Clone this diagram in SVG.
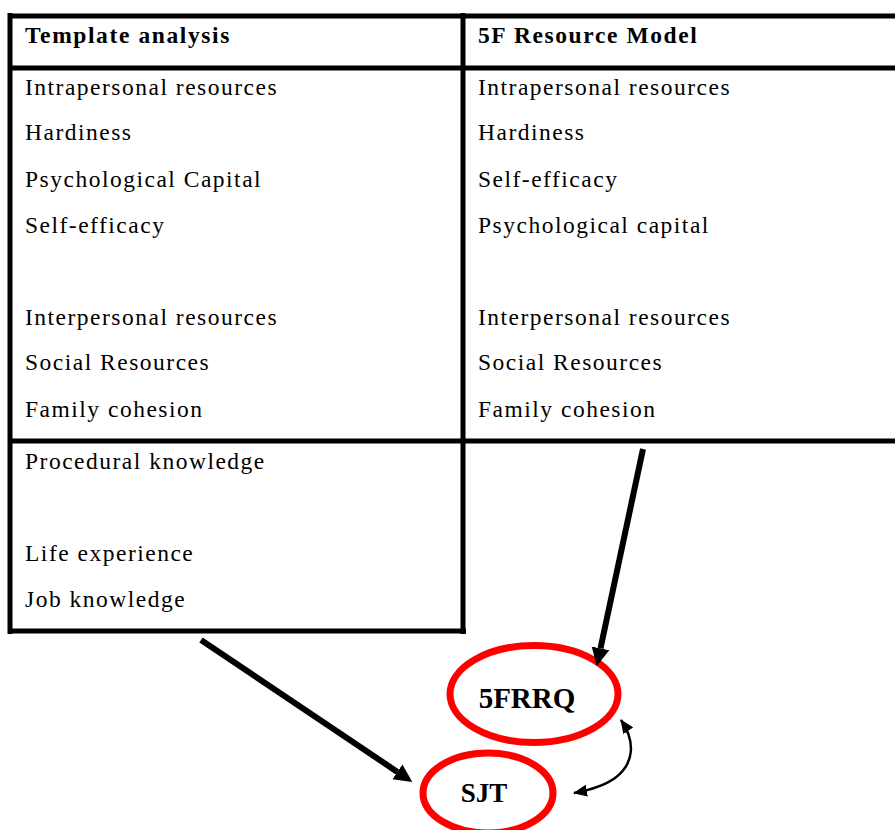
<svg xmlns="http://www.w3.org/2000/svg" width="895" height="830" viewBox="0 0 895 830">
<style>
.t{font-family:"Liberation Serif","Times New Roman",serif;font-size:23.5px;letter-spacing:1.5px;fill:#000}
.h{font-family:"Liberation Serif","Times New Roman",serif;font-size:23.5px;font-weight:bold;letter-spacing:1.6px;fill:#000}
.b{stroke:#000;stroke-width:5;fill:none}
.e{fill:#fff;stroke:#ff0000;stroke-width:7}
.l{font-family:"Liberation Serif","Times New Roman",serif;font-weight:bold;fill:#000}
</style>
<defs>
<marker id="big" markerUnits="userSpaceOnUse" markerWidth="20" markerHeight="20" viewBox="0 0 20 18" refX="0" refY="9" orient="auto">
<path d="M0,0 L18,9 L0,18 Z" fill="#000"/>
</marker>
<marker id="sm" markerUnits="userSpaceOnUse" markerWidth="14" markerHeight="12" viewBox="0 0 14 12" refX="13" refY="6" orient="auto-start-reverse">
<path d="M0,0 L14,6 L0,12 Z" fill="#000"/>
</marker>
</defs>
<g id="table">
<line class="b" x1="8" y1="16" x2="895" y2="16"/>
<line class="b" x1="10" y1="13" x2="10" y2="634"/>
<line class="b" x1="8" y1="68" x2="895" y2="68"/>
<line class="b" x1="463" y1="13" x2="463" y2="634"/>
<line class="b" x1="8" y1="441" x2="895" y2="441"/>
<line class="b" x1="8" y1="631" x2="466" y2="631"/>
</g>
<g id="col-template">
<text class="h" x="25" y="43">Template analysis</text>
<text class="t" x="25" y="95">Intrapersonal resources</text>
<text class="t" x="25" y="140">Hardiness</text>
<text class="t" x="25" y="187">Psychological Capital</text>
<text class="t" x="25" y="233">Self-efficacy</text>
<text class="t" x="25" y="325">Interpersonal resources</text>
<text class="t" x="25" y="370">Social Resources</text>
<text class="t" x="25" y="417">Family cohesion</text>
<text class="t" x="25" y="469">Procedural knowledge</text>
<text class="t" x="25" y="561">Life experience</text>
<text class="t" x="25" y="607">Job knowledge</text>
</g>
<g id="col-5f">
<text class="h" x="478" y="43">5F Resource Model</text>
<text class="t" x="478" y="95">Intrapersonal resources</text>
<text class="t" x="478" y="140">Hardiness</text>
<text class="t" x="478" y="187">Self-efficacy</text>
<text class="t" x="478" y="233">Psychological capital</text>
<text class="t" x="478" y="325">Interpersonal resources</text>
<text class="t" x="478" y="370">Social Resources</text>
<text class="t" x="478" y="417">Family cohesion</text>
</g>
<g id="node-5frrq">
<ellipse class="e" cx="534" cy="694" rx="84" ry="48.5"/>
<text class="l" x="527" y="708" font-size="29" text-anchor="middle">5FRRQ</text>
</g>
<g id="node-sjt">
<ellipse class="e" cx="488" cy="793" rx="65" ry="40"/>
<text class="l" x="484" y="802" font-size="27" text-anchor="middle">SJT</text>
</g>
<g id="connectors">
<line x1="643" y1="449" x2="600.5" y2="648.4" stroke="#000" stroke-width="6" marker-end="url(#big)"/>
<line x1="201" y1="640" x2="397.4" y2="771.9" stroke="#000" stroke-width="6" marker-end="url(#big)"/>
<path d="M621,720 C636,742 634,764 615,778 C604,786 590,790 574,793" fill="none" stroke="#000" stroke-width="2.5" marker-start="url(#sm)" marker-end="url(#sm)"/>
</g>
</svg>
